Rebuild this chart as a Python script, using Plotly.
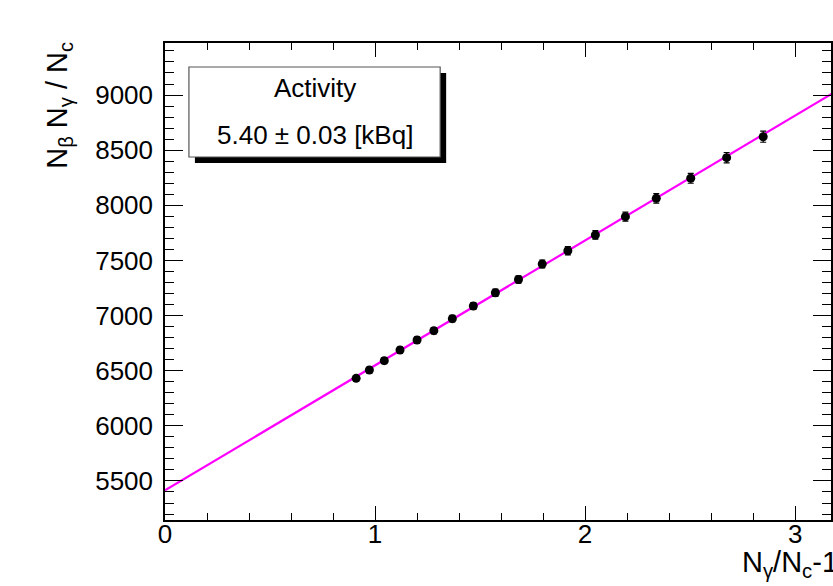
import plotly.graph_objects as go

# data
x_vals = [0.910, 0.973, 1.044, 1.119, 1.200, 1.280, 1.368, 1.468, 1.573, 1.683,
          1.796, 1.918, 2.049, 2.192, 2.339, 2.503, 2.674, 2.848]
y_vals = [6431, 6506, 6591, 6688, 6778, 6863, 6972, 7087, 7207, 7327,
          7468, 7588, 7731, 7897, 8063, 8245, 8432, 8622]
y_err = [25, 25, 26, 27, 28, 29, 30, 31, 32, 34,
         36, 37, 39, 41, 43, 45, 47, 50]
fit_intercept = 5415
fit_slope = 1133
fit_x = [0.0, 3.2]
fit_y = [fit_intercept + fit_slope * v for v in fit_x]

FONT = "Liberation Sans, Arial, Helvetica, sans-serif"
W, H = 833, 586
L, T, B, R = 165, 43, 66, 0

fig = go.Figure()
fig.add_trace(go.Scatter(x=fit_x, y=fit_y, mode="lines",
                         line=dict(color="#ff00ff", width=2.2), showlegend=False))
fig.add_trace(go.Scatter(x=x_vals, y=y_vals, mode="markers",
                         marker=dict(color="black", size=9),
                         error_y=dict(type="data", array=y_err, color="black",
                                      thickness=1.2, width=3),
                         showlegend=False))

axis_common = dict(showgrid=False, zeroline=False, showline=True, linecolor="black",
                   linewidth=1.5, mirror="ticks", ticks="inside", tickcolor="black",
                   tickfont=dict(family=FONT, size=26, color="black"))

fig.update_xaxes(range=[0, (W - L) / 210.67], tick0=0, dtick=1, ticklen=14, tickwidth=1.3,
                 minor=dict(ticks="inside", dtick=0.2, ticklen=7, tickcolor="black", tickwidth=1.2),
                 ticklabelstandoff=-10, **axis_common)
fig.update_yaxes(range=[5146, 9472], tick0=5500, dtick=500, ticklen=18, tickwidth=1.3,
                 minor=dict(ticks="inside", dtick=100, ticklen=9, tickcolor="black", tickwidth=1.2),
                 ticklabelstandoff=5, **axis_common)

pw = W - L - R
ph = H - T - B

def px_x(p):
    return (p - L) / pw

def px_y(p):
    return 1 - (p - T) / ph

# legend-like pave with shadow
bx0, bx1, by0, by1 = 189, 441, 67, 157
sh = 6
fig.add_shape(type="rect", xref="paper", yref="paper",
              x0=px_x(bx0 + sh), x1=px_x(bx1 + sh), y0=px_y(by1 + sh), y1=px_y(by0 + sh),
              fillcolor="black", line=dict(width=0), layer="above")
fig.add_shape(type="rect", xref="paper", yref="paper",
              x0=px_x(bx0), x1=px_x(bx1), y0=px_y(by1), y1=px_y(by0),
              fillcolor="white", line=dict(color="#555555", width=1.2), layer="above")

fig.add_annotation(text="Activity", xref="paper", yref="paper",
                   x=px_x((bx0 + bx1) / 2), y=px_y(88), xanchor="center", yanchor="middle",
                   showarrow=False, font=dict(family=FONT, size=26, color="black"))
fig.add_annotation(text="5.40 ± 0.03 [kBq]", xref="paper", yref="paper",
                   x=px_x((bx0 + bx1) / 2), y=px_y(135), xanchor="center", yanchor="middle",
                   showarrow=False, font=dict(family=FONT, size=26, color="black"))

# axis titles
fig.add_annotation(text="N<sub>γ</sub>/N<sub>c</sub>-1", xref="paper", yref="paper",
                   x=px_x(742), y=px_y(564), xanchor="left", yanchor="middle",
                   showarrow=False, font=dict(family=FONT, size=29, color="black"))
fig.add_annotation(text="N<sub>β</sub> N<sub>γ</sub> / N<sub>c</sub>", xref="paper", yref="paper",
                   x=px_x(58), y=px_y(40), xanchor="center", yanchor="top", textangle=-90,
                   showarrow=False, font=dict(family=FONT, size=29, color="black"))

fig.update_layout(width=W, height=H, margin=dict(l=L, r=R, t=T, b=B),
                  paper_bgcolor="white", plot_bgcolor="white", showlegend=False)

fig.write_html("out.html")
